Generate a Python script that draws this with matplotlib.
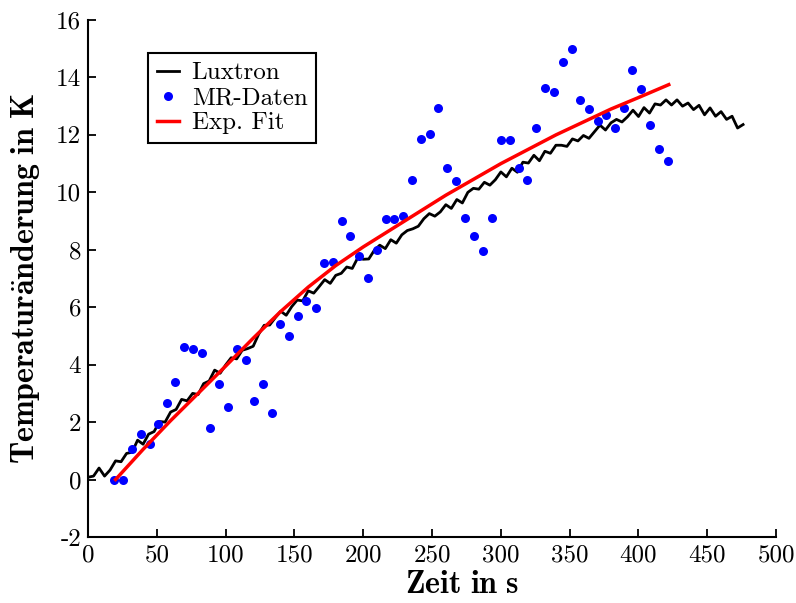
import numpy as np
import matplotlib
matplotlib.use("Agg")
import matplotlib.pyplot as plt

plt.rcParams['font.family'] = 'serif'
plt.rcParams['font.serif'] = ['cmr10']
plt.rcParams['mathtext.fontset'] = 'cm'
plt.rcParams['axes.unicode_minus'] = False

# Luxtron probe (every 4 s)
lux_t = np.arange(0, 480, 4)
lux_T = [0.08, 0.12, 0.40, 0.12, 0.33, 0.65, 0.62, 0.91, 0.95, 1.37,
         1.23, 1.58, 1.67, 2.02, 2.00, 2.35, 2.44, 2.79, 2.74, 3.00,
         2.96, 3.34, 3.43, 3.81, 3.70, 3.99, 4.24, 4.20, 4.50, 4.56,
         4.64, 5.06, 5.37, 5.38, 5.63, 5.86, 5.72, 6.02, 6.25, 6.22,
         6.57, 6.49, 6.72, 6.96, 6.83, 7.11, 7.18, 7.40, 7.35, 7.72,
         7.67, 7.68, 7.98, 8.16, 8.04, 8.35, 8.23, 8.52, 8.67, 8.73,
         8.82, 9.08, 9.26, 9.17, 9.32, 9.57, 9.44, 9.75, 9.63, 10.00,
         10.14, 10.11, 10.35, 10.25, 10.44, 10.71, 10.54, 10.84, 10.70, 11.05,
         11.02, 11.29, 11.10, 11.43, 11.36, 11.64, 11.64, 11.60, 11.86, 11.79,
         11.98, 11.88, 12.11, 12.34, 12.17, 12.42, 12.54, 12.45, 12.63, 12.86,
         12.64, 12.95, 12.76, 13.08, 13.04, 13.22, 13.04, 13.22, 13.00, 13.11,
         12.88, 13.03, 12.70, 12.94, 12.65, 12.81, 12.54, 12.65, 12.24, 12.36]

# MR thermometry points
mr_t = [19, 25.4, 32, 38.5, 45, 51, 57.4, 63.2, 69.8, 76.3,
        82.8, 88.7, 95.2, 101.7, 108.3, 114.8, 120.6, 127.2, 133.7, 139.5,
        146, 152.6, 158.4, 165.7, 171.5, 178, 184.6, 190.4, 197, 203.5,
        210, 216.6, 222.4, 229, 235.5, 242, 248.5, 254.4, 260.9, 267.4,
        273.8, 280.5, 287, 293.6, 300, 306.7, 313, 319, 325.6, 332,
        338.7, 345, 351.7, 357.6, 364, 370.6, 376.5, 383, 389.5, 395.3,
        401.9, 408.4, 415, 421.5]
mr_T = [0.0, 0.0, 1.05, 1.6, 1.22, 1.92, 2.65, 3.38, 4.6, 4.53,
        4.39, 1.78, 3.31, 2.54, 4.53, 4.15, 2.72, 3.34, 2.33, 5.43,
        5.0, 5.68, 6.2, 5.96, 7.53, 7.56, 8.99, 8.47, 7.77, 7.0,
        7.98, 9.06, 9.06, 9.16, 10.42, 11.85, 12.02, 12.93, 10.84, 10.38,
        9.09, 8.47, 7.94, 9.09, 11.81, 11.81, 10.84, 10.42, 12.23, 13.62,
        13.48, 14.53, 14.98, 13.2, 12.9, 12.47, 12.68, 12.23, 12.93, 14.25,
        13.6, 12.33, 11.5, 11.1]

# exponential fit
fit_t = [20, 40, 60, 80, 100, 120, 140, 160, 180, 200, 220,
         240, 260, 280, 300, 320, 340, 360, 380, 400, 422]
fit_T = [0.0, 1.05, 2.05, 3.0, 3.95, 4.92, 5.85, 6.7, 7.45, 8.1, 8.7,
         9.3, 9.9, 10.45, 11.0, 11.5, 12.0, 12.45, 12.9, 13.3, 13.75]

fig = plt.figure(figsize=(7.96, 6.03), dpi=100)
ax = fig.add_axes([0.1106, 0.1095, 0.8644, 0.8573])

ax.plot(lux_t, lux_T, color='black', lw=2.0, label='Luxtron')
ax.plot(mr_t, mr_T, 'o', color='blue', ms=6.5, mec='none', label='MR-Daten')
ax.plot(fit_t, fit_T, color='red', lw=2.5, label='Exp. Fit')

ax.set_xlim(0, 500)
ax.set_ylim(-2, 16)
ax.set_xticks(range(0, 501, 50))
ax.set_yticks(range(-2, 17, 2))
ax.spines['top'].set_visible(False)
ax.spines['right'].set_visible(False)
for s in ('left', 'bottom'):
    ax.spines[s].set_linewidth(1.5)
ax.tick_params(direction='in', length=6, width=1.3, labelsize=18, pad=5)

ax.set_xlabel(r'$\mathbf{Zeit\ in\ s}$', fontsize=23, labelpad=4)
ax.xaxis.label.set_x(0.5436)
ax.set_ylabel(r'$\mathbf{Temperatur\ddot{a}nderung\ in\ K}$', fontsize=23, labelpad=10)

leg = ax.legend(loc='upper left', bbox_to_anchor=(0.087, 0.936), borderaxespad=0,
                fancybox=False, edgecolor='black', framealpha=1, fontsize=18,
                handlelength=0.9, handletextpad=0.5, borderpad=0.35, labelspacing=0.1)
leg.get_frame().set_linewidth(1.5)

fig.savefig('out.png', dpi=100)
